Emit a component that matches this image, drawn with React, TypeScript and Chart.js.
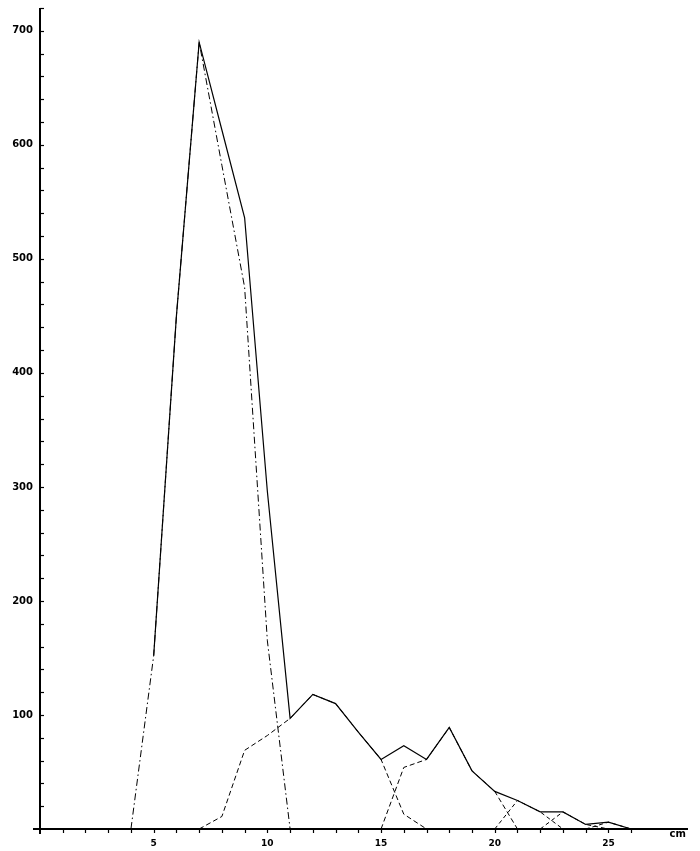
import React, { useEffect, useRef } from 'react';
import { Chart, registerables } from 'chart.js';

Chart.register(...registerables);

// Length classes (cm)
const lengthsCm = [4, 5, 6, 7, 8, 9, 10, 11, 12, 13, 14, 15, 16, 17, 18, 19, 20, 21, 22, 23, 24, 25, 26];

// Total frequency (solid line)
const totalFreq = [null, 152, 450, 690, 613, 536, 296, 97, 118, 110, 85, 61, 73, 61, 89, 51, 33, 25, 15, 15, 4, 6, 0];

// Component groups (broken lines)
const group1 = [0, 152, 450, 690, 582, 475, 165, 0, null, null, null, null, null, null, null, null, null, null, null, null, null, null, null];
const group2 = [null, null, null, 0, 11, 69, 82, 97, 118, 110, 85, 61, 13, 0, null, null, null, null, null, null, null, null, null];
const group3 = [null, null, null, null, null, null, null, null, null, null, null, 0, 54, 61, 89, 51, 33, 0, null, null, null, null, null];
const group4 = [null, null, null, null, null, null, null, null, null, null, null, null, null, null, null, null, 0, 25, 15, 0, null, null, null];
const group5 = [null, null, null, null, null, null, null, null, null, null, null, null, null, null, null, null, null, null, 0, 15, 4, 0, null];
const group6 = [null, null, null, null, null, null, null, null, null, null, null, null, null, null, null, null, null, null, null, null, 0, 6, 0];

// Axis settings
const xLabelValues = [5, 10, 15, 20, 25];
const yLabelValues = [100, 200, 300, 400, 500, 600, 700];
const xUnit = 'cm';

const toPoints = (arr: (number | null)[]) =>
  lengthsCm
    .map((x, i) => ({ x, y: arr[i] }))
    .filter((p) => p.y !== null) as { x: number; y: number }[];

const axisPlugin = {
  id: 'handAxes',
  afterDraw(chart: any) {
    const { ctx, scales } = chart;
    const xs = scales.x;
    const ys = scales.y;
    const x0 = xs.getPixelForValue(0);
    const y0 = ys.getPixelForValue(0);
    ctx.save();
    ctx.strokeStyle = '#000';
    ctx.lineCap = 'butt';
    // y axis line
    ctx.lineWidth = 2;
    ctx.beginPath();
    ctx.moveTo(x0, chart.chartArea.top);
    ctx.lineTo(x0, y0 + 5);
    ctx.stroke();
    // x axis line
    ctx.beginPath();
    ctx.moveTo(x0 - 7, y0);
    ctx.lineTo(chart.chartArea.right, y0);
    ctx.stroke();
    // y ticks (inside)
    ctx.lineWidth = 1.2;
    for (let v = 20; v <= 720; v += 20) {
      const py = Math.round(ys.getPixelForValue(v)) + 0.5;
      ctx.beginPath();
      ctx.moveTo(x0, py);
      ctx.lineTo(x0 + 4, py);
      ctx.stroke();
    }
    // x ticks
    for (let v = 1; v <= 26; v += 1) {
      const px = Math.round(xs.getPixelForValue(v)) + 0.5;
      ctx.beginPath();
      ctx.moveTo(px, y0);
      ctx.lineTo(px, y0 + 4);
      ctx.stroke();
    }
    // unit label
    ctx.fillStyle = '#000';
    ctx.font = 'bold 10px "DejaVu Sans"';
    ctx.textAlign = 'center';
    ctx.textBaseline = 'alphabetic';
    ctx.fillText(xUnit, xs.getPixelForValue(28.05), y0 + 8);
    ctx.restore();
  },
};

export default function App() {
  const ref = useRef<HTMLCanvasElement | null>(null);

  useEffect(() => {
    if (!ref.current) return;
    const solid = { borderColor: '#000', borderWidth: 1.2, pointRadius: 0, tension: 0, fill: false };
    const chart = new Chart(ref.current, {
      type: 'line',
      data: {
        datasets: [
          { label: 'Total', data: toPoints(totalFreq), ...solid },
          { label: 'Group 1', data: toPoints(group1), ...solid, borderWidth: 1, borderDash: [7, 3, 1.5, 3] },
          { label: 'Group 2', data: toPoints(group2), ...solid, borderWidth: 1, borderDash: [5, 3] },
          { label: 'Group 3', data: toPoints(group3), ...solid, borderWidth: 1, borderDash: [5, 3] },
          { label: 'Group 4', data: toPoints(group4), ...solid, borderWidth: 1, borderDash: [4, 3] },
          { label: 'Group 5', data: toPoints(group5), ...solid, borderWidth: 1, borderDash: [4, 3] },
          { label: 'Group 6', data: toPoints(group6), ...solid, borderWidth: 1, borderDash: [4, 3] },
        ],
      },
      options: {
        responsive: false,
        animation: false,
        events: [],
        layout: { padding: { top: 8, right: 12, left: 0, bottom: 0 } },
        plugins: { legend: { display: false }, tooltip: { enabled: false } },
        scales: {
          x: {
            type: 'linear',
            min: 0,
            max: 28.5,
            grid: { display: false, drawTicks: false },
            border: { display: false },
            afterFit: (s: any) => {
              s.height = 22;
            },
            ticks: {
              stepSize: 1,
              autoSkip: false,
              includeBounds: false,
              maxRotation: 0,
              padding: 9,
              color: '#000',
              font: { family: 'DejaVu Sans', size: 9, weight: 'bold' },
              callback: (v: any) => (xLabelValues.includes(Number(v)) ? String(v) : ''),
            },
          },
          y: {
            type: 'linear',
            min: 0,
            max: 720,
            grid: { display: false, drawTicks: true, tickLength: 7 },
            border: { display: false },
            afterFit: (s: any) => {
              s.width = 40;
            },
            ticks: {
              stepSize: 20,
              autoSkip: false,
              padding: 0,
              color: '#000',
              font: { family: 'DejaVu Sans', size: 10, weight: 'bold' },
              callback: (v: any) => (yLabelValues.includes(Number(v)) ? String(v) : ''),
            },
          },
        },
      },
      plugins: [axisPlugin],
    });
    return () => chart.destroy();
  }, []);

  return (
    <div style={{ position: 'fixed', left: 0, top: 0, width: 700, height: 851, background: '#fff' }}>
      <canvas ref={ref} width={700} height={851} />
    </div>
  );
}
